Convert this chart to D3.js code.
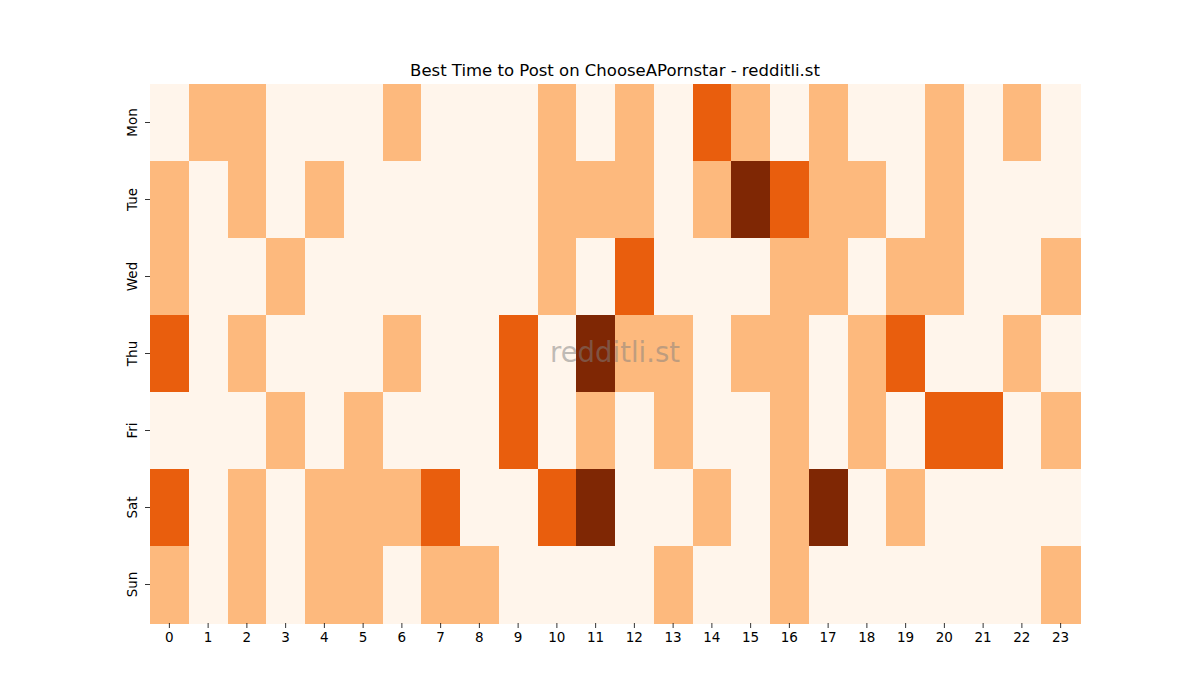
<!DOCTYPE html>
<html>
<head>
<meta charset="utf-8">
<script src="https://cdn.jsdelivr.net/npm/d3@7"></script>
<style>
  body { margin: 0; background: #fff; }
  text { font-family: "DejaVu Sans", sans-serif; }
</style>
</head>
<body>
<div id="chart"></div>
<script>
// days (rows) and hours (columns)
var days = ["Mon", "Tue", "Wed", "Thu", "Fri", "Sat", "Sun"];
var hours = d3.range(24);

// activity level per hour for each day (0 = lowest, 3 = highest)
var mon = [0,1,1,0,0,0,1,0,0,0,1,0,1,0,2,1,0,1,0,0,1,0,1,0];
var tue = [1,0,1,0,1,0,0,0,0,0,1,1,1,0,1,3,2,1,1,0,1,0,0,0];
var wed = [1,0,0,1,0,0,0,0,0,0,1,0,2,0,0,0,1,1,0,1,1,0,0,1];
var thu = [2,0,1,0,0,0,1,0,0,2,0,3,1,1,0,1,1,0,1,2,0,0,1,0];
var fri = [0,0,0,1,0,1,0,0,0,2,0,1,0,1,0,0,1,0,1,0,2,2,0,1];
var sat = [2,0,1,0,1,1,1,2,0,0,2,3,0,0,1,0,1,3,0,1,0,0,0,0];
var sun = [1,0,1,0,1,1,0,1,1,0,0,0,0,1,0,0,1,0,0,0,0,0,0,1];
var rows = [mon, tue, wed, thu, fri, sat, sun];

var palette = ["#fff5eb", "#fdb97d", "#e95e0d", "#7f2704"];

var svgWidth = 1200;
var svgHeight = 700;
var margin = { top: 84, right: 120, bottom: 77, left: 150 };
var width = svgWidth - margin.left - margin.right;
var height = svgHeight - margin.top - margin.bottom;

var svg = d3.select("#chart")
  .append("svg")
  .attr("width", svgWidth)
  .attr("height", svgHeight);

var plot = svg.append("g")
  .attr("transform", `translate(${margin.left}, ${margin.top})`);

var x = d3.scaleBand().domain(hours).range([0, width]);
var y = d3.scaleBand().domain(days).range([0, height]);
var color = d3.scaleOrdinal().domain([0, 1, 2, 3]).range(palette);

var cells = [];
rows.forEach(function (r, i) {
  r.forEach(function (v, h) {
    cells.push({ day: days[i], hour: h, value: v });
  });
});

plot.selectAll("rect")
  .data(cells)
  .enter()
  .append("rect")
  .attr("x", d => x(d.hour))
  .attr("y", d => y(d.day))
  .attr("width", x.bandwidth() + 0.5)
  .attr("height", y.bandwidth() + 0.5)
  .attr("fill", d => color(d.value))
  .attr("shape-rendering", "crispEdges");

// axes
var xAxis = plot.append("g")
  .attr("transform", `translate(0, ${height})`)
  .call(d3.axisBottom(x).tickSize(5).tickPadding(4));
var yAxis = plot.append("g")
  .call(d3.axisLeft(y).tickSize(5).tickPadding(4));

[xAxis, yAxis].forEach(function (a) {
  a.select(".domain").remove();
  a.selectAll("line").attr("stroke", "#000").attr("stroke-width", 0.8);
  a.selectAll("text").attr("fill", "#000").style("font-size", "13.5px");
});

yAxis.selectAll(".tick text")
  .attr("transform", "rotate(-90)")
  .attr("text-anchor", "middle")
  .attr("x", 0)
  .attr("y", -13)
  .attr("dy", "0");

// watermark
plot.append("text")
  .attr("x", width / 2)
  .attr("y", y("Thu") + y.bandwidth() / 2)
  .attr("dy", "0.3em")
  .attr("text-anchor", "middle")
  .attr("fill", "#808080")
  .attr("fill-opacity", 0.5)
  .style("font-size", "27.5px")
  .text("redditli.st");

// title
svg.append("text")
  .attr("x", margin.left + width / 2)
  .attr("y", 76)
  .attr("text-anchor", "middle")
  .attr("fill", "#000")
  .style("font-size", "16.5px")
  .text("Best Time to Post on ChooseAPornstar - redditli.st");
</script>
</body>
</html>
